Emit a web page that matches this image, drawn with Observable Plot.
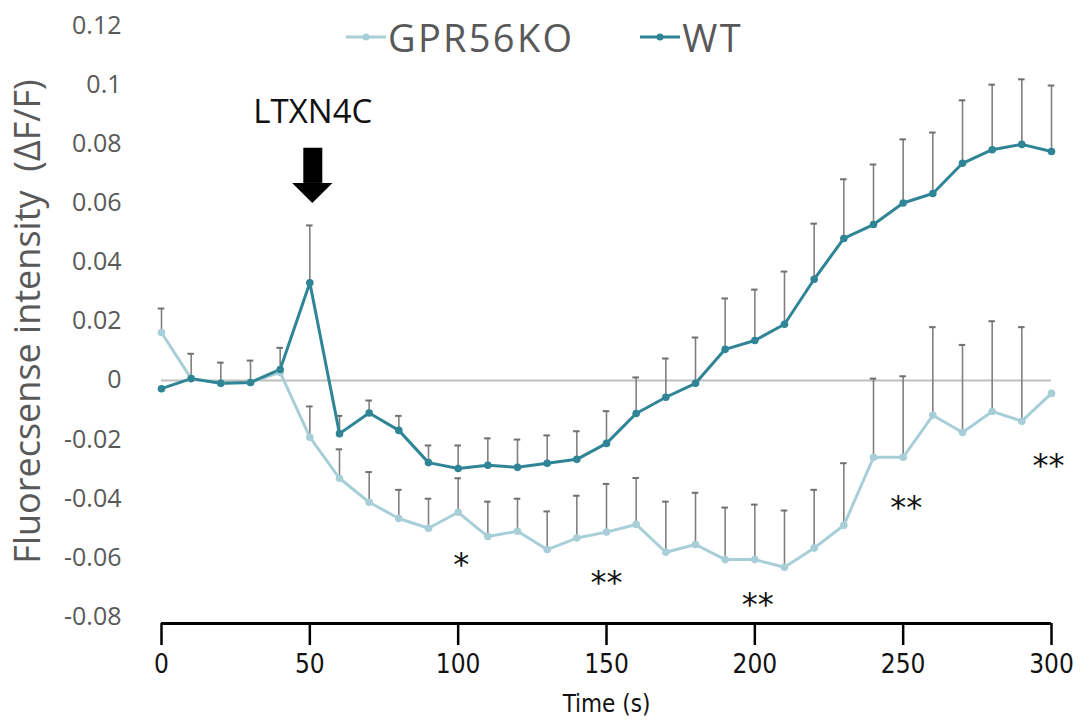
<!DOCTYPE html>
<html>
<head>
<meta charset="utf-8">
<script src="https://cdn.jsdelivr.net/npm/d3@7"></script>
<script src="https://cdn.jsdelivr.net/npm/@observablehq/plot@0.6"></script>
<style>
  html, body { margin: 0; padding: 0; background: #fff; }
  #wrap { position: relative; width: 1089px; height: 727px; }
  #legend { position: absolute; left: 346px; top: 11px; display: flex; align-items: center;
            font-family: "Open Sans", "Noto Sans", sans-serif; font-size: 38px; letter-spacing: 2.3px; color: #595959; }
  .item { display: flex; align-items: center; margin-right: 66px; }
  .item svg { margin-right: 2px; }
</style>
</head>
<body>
<div id="wrap"><div id="legend"></div></div>
<script>
const times = [0,10,20,30,40,50,60,70,80,90,100,110,120,130,140,150,160,170,180,190,200,210,220,230,240,250,260,270,280,290,300];

const wtMean = [-0.0028,0.0006,-0.001,-0.0007,0.0037,0.033,-0.018,-0.011,-0.0169,-0.0278,-0.0298,-0.0287,-0.0294,-0.028,-0.0267,-0.0213,-0.0112,-0.0057,-0.001,0.0105,0.0135,0.019,0.0342,0.048,0.0527,0.060,0.0632,0.0734,0.078,0.0798,0.0774];
const wtUpper = [null,0.009,0.006,0.0067,0.011,0.0524,-0.012,-0.0068,-0.012,-0.022,-0.022,-0.0196,-0.020,-0.0186,-0.0172,-0.0104,0.001,0.0074,0.0145,0.0277,0.0307,0.0368,0.053,0.068,0.073,0.0815,0.0838,0.0947,0.100,0.1018,0.0997];

const koMean = [0.0162,0.0006,-0.001,-0.0007,0.0027,-0.0192,-0.0331,-0.0412,-0.0467,-0.050,-0.0446,-0.0528,-0.051,-0.0572,-0.0533,-0.0513,-0.0487,-0.0581,-0.0555,-0.0606,-0.0606,-0.0632,-0.0567,-0.049,-0.026,-0.026,-0.0118,-0.0176,-0.0105,-0.0138,-0.0044];
const koUpper = [0.0243,null,null,null,null,-0.0088,-0.0233,-0.031,-0.037,-0.040,-0.0331,-0.041,-0.040,-0.0443,-0.039,-0.035,-0.033,-0.041,-0.038,-0.043,-0.042,-0.044,-0.037,-0.028,0.0006,0.0014,0.018,0.012,0.020,0.018,null];

const seriesNames = ["GPR56KO", "WT"];
const seriesColors = ["#a8cfd8", "#2f8595"];

const yTicks = [-0.08,-0.06,-0.04,-0.02,0,0.02,0.04,0.06,0.08,0.1,0.12];
const xTicks = [0,50,100,150,200,250,300];
const Y_MIN = -0.0822, Y_MAX = 0.12;

const sigTimes = [101, 150, 201, 251, 299];
const sigY = [-0.0625, -0.0683, -0.076, -0.043, -0.0287];
const sigLabels = ["*", "**", "**", "**", "**"];

const eventLabel = "LTXN4C";
const eventTime = 51;
const eventLabelY = 0.0906;
const arrowShaft = [0.0785, 0.0666];
const arrowHeadX = [44.2, 51, 57.8];
const arrowHeadTip = [0.0666, 0.0598, 0.0666];

const yTitle = "Fluorecsense intensity  (ΔF/F)";
const xTitle = "Time (s)";

const rows = [];
seriesNames.forEach((s, si) => {
  const m = si === 0 ? koMean : wtMean;
  const u = si === 0 ? koUpper : wtUpper;
  times.forEach((t, i) => rows.push({series: s, t, mean: m[i], upper: u[i]}));
});
const bars = rows.filter(d => d.upper != null);
const sig = sigTimes.map((t, i) => ({t, y: sigY[i], label: sigLabels[i]}));
const head = arrowHeadX.map((x, i) => ({x, y1: arrowShaft[1], y2: arrowHeadTip[i]}));

const fmt = d => String(+d.toFixed(2));
const narrow = "Liberation Sans Narrow, DejaVu Sans Condensed, sans-serif";
const sans = "Open Sans, Noto Sans, sans-serif";

const chart = Plot.plot({
  width: 1089,
  height: 727,
  marginLeft: 161,
  marginRight: 38,
  marginTop: 25,
  marginBottom: 104,
  x: {domain: [0, 300]},
  y: {domain: [Y_MIN, Y_MAX]},
  color: {domain: seriesNames, range: seriesColors},
  style: {background: "transparent", overflow: "visible"},
  marks: [
    Plot.axisY({ticks: yTicks, tickFormat: fmt, tickSize: 0, tickPadding: 40, fontSize: 25,
      fill: "#595959", label: null, fontFamily: sans}),
    Plot.axisX({ticks: xTicks, tickSize: 22, tickPadding: 9, fontSize: 26, stroke: "#000",
      strokeWidth: 2.5, fill: "#111", label: null, fontFamily: narrow}),
    Plot.ruleY([Y_MIN], {stroke: "#000", strokeWidth: 3}),
    Plot.ruleY([0], {stroke: "#bfbfbf", strokeWidth: 2}),
    Plot.text([yTitle], {frameAnchor: "left", textAnchor: "middle", rotate: -90, dx: -133, dy: -3,
      fontSize: 36, fill: "#595959", fontFamily: sans}),
    Plot.text([xTitle], {frameAnchor: "bottom", dy: 88, fontSize: 24, fill: "#111", fontFamily: narrow}),
    Plot.ruleX(bars, {x: "t", y1: "mean", y2: "upper", stroke: "#808080", strokeWidth: 1.6}),
    Plot.ruleY(bars, {y: "upper", x1: d => d.t - 1.1, x2: d => d.t + 1.1, stroke: "#707070", strokeWidth: 2}),
    Plot.line(rows, {x: "t", y: "mean", z: "series", stroke: "series", strokeWidth: 3}),
    Plot.dot(rows, {x: "t", y: "mean", fill: "series", r: 3.8}),
    Plot.text(sig, {x: "t", y: "y", text: "label", fontSize: 32, fill: "#111",
      fontFamily: "DejaVu Sans, sans-serif", letterSpacing: "1px"}),
    Plot.text([eventLabel], {x: eventTime, y: eventLabelY, fontSize: 33, fill: "#111", fontFamily: sans}),
    Plot.ruleX([eventTime], {y1: arrowShaft[0], y2: arrowShaft[1], stroke: "#000", strokeWidth: 19}),
    Plot.areaY(head, {x: "x", y1: "y1", y2: "y2", fill: "#000"})
  ]
});
document.getElementById("wrap").appendChild(chart);
chart.style.position = "absolute"; chart.style.left = "0"; chart.style.top = "0";

const legend = document.getElementById("legend");
seriesNames.forEach((s, i) => {
  const item = document.createElement("div");
  item.className = "item";
  item.innerHTML = `<svg width="40" height="12"><line x1="0" y1="6" x2="40" y2="6" stroke="${seriesColors[i]}" stroke-width="3"/><circle cx="20" cy="6" r="3.5" fill="${seriesColors[i]}"/></svg><span>${s}</span>`;
  legend.appendChild(item);
});
document.getElementById("wrap").appendChild(legend);
</script>
</body>
</html>
